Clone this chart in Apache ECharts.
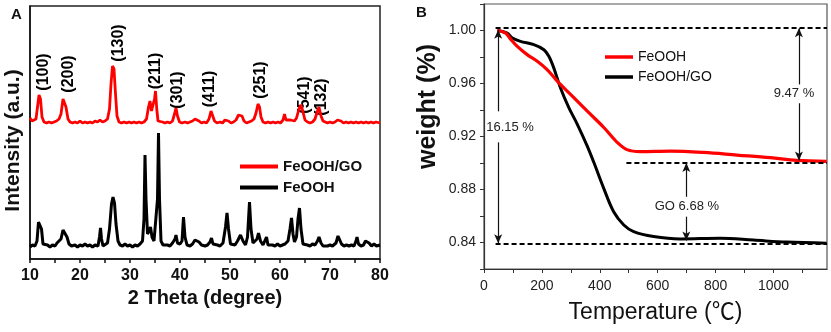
<!DOCTYPE html>
<html><head><meta charset="utf-8">
<script src="https://cdn.jsdelivr.net/npm/echarts@6/dist/echarts.min.js"></script>
<style>html,body{margin:0;padding:0;background:#fff}#c{width:831px;height:332px}</style>
</head><body><div id="c"></div>
<script>
// ---------- Panel A : XRD (2θ, intensity in a.u., curves drawn stacked) ----------
const xrdFeOOH = [[10,12],[10.5,14],[11,13],[11.4,18],[11.7,37],[12.0,38],[12.3,30],[12.6,15],[13,13],[13.5,14],[14,12],[14.5,14],[15,13],[15.4,16],[15.8,15],[16.2,20],[16.6,29],[17,30],[17.4,22],[17.8,15],[18.3,13],[19,14],[19.5,12],[20,14],[20.5,13],[21,15],[21.5,13],[22,14],[22.5,12],[23,14],[23.6,13],[23.9,22],[24.1,31],[24.3,20],[24.6,13],[25,14],[25.5,16],[25.9,30],[26.3,55],[26.6,62],[26.9,56],[27.2,35],[27.6,18],[28,14],[28.5,13],[29,15],[29.5,13],[30,14],[30.5,12],[31,14],[31.5,13],[32,15],[32.5,18],[32.8,40],[33.0,104],[33.2,60],[33.5,25],[33.8,28],[34.1,32],[34.4,22],[34.8,18],[35.2,20],[35.5,60],[35.7,126],[35.9,60],[36.2,18],[36.6,14],[37,13],[37.5,14],[38,13],[38.5,16],[39.0,20],[39.2,24],[39.5,16],[40,15],[40.4,18],[40.7,42],[41.0,22],[41.4,14],[42,13],[42.5,15],[43,19],[43.4,21],[43.8,17],[44.3,14],[45,13],[45.5,14],[46,17],[46.3,21],[46.6,15],[47,13],[47.5,14],[48,13],[48.6,16],[49.1,32],[49.4,46],[49.7,30],[50.1,15],[50.5,13],[51,14],[51.5,18],[52.1,24],[52.6,18],[53.1,14],[53.5,22],[53.9,57],[54.2,30],[54.6,16],[55,15],[55.4,20],[55.7,26],[56.1,18],[56.6,14],[57.0,15],[57.3,22],[57.6,14],[58,13],[58.5,14],[59,13],[59.5,15],[60,13],[60.5,14],[61,15],[61.6,18],[62.0,30],[62.3,41],[62.6,25],[62.9,17],[63.3,22],[63.6,40],[63.9,51],[64.2,30],[64.6,15],[65,13],[65.5,14],[66,13],[66.5,15],[67,14],[67.5,18],[67.8,22],[68.2,16],[68.6,13],[69,14],[69.5,13],[70,14],[70.5,13],[71.2,16],[71.6,23],[71.9,24],[72.3,15],[72.8,13],[73.3,14],[73.8,13],[74.3,14],[74.8,13],[75.2,18],[75.4,22],[75.7,15],[76.2,13],[76.7,14],[77.1,18],[77.4,20],[77.8,16],[78.3,13],[78.8,15],[79.3,13],[80,14]];
const xrdFeOOHGO = [[10,141],[10.4,138],[10.8,137],[11.2,140],[11.5,152],[11.8,164],[12.1,160],[12.4,142],[12.8,137],[13.3,136],[13.8,137],[14.3,136],[14.8,137],[15.3,138],[15.8,140],[16.2,145],[16.6,160],[16.9,162],[17.2,152],[17.6,140],[18,137],[18.5,136],[19,137],[19.5,136],[20,138],[20.5,136],[21,137],[21.5,136],[22,137],[22.5,136],[23,138],[23.5,137],[24,139],[24.5,137],[25,138],[25.5,140],[25.9,150],[26.2,175],[26.5,193],[26.8,190],[27.1,165],[27.4,143],[27.8,137],[28.3,136],[28.8,137],[29.3,136],[29.8,137],[30.3,136],[30.8,137],[31.3,136],[31.8,137],[32.3,136],[32.8,137],[33.3,140],[33.7,152],[34.0,158],[34.3,148],[34.6,146],[34.9,160],[35.1,168],[35.35,150],[35.6,138],[36,136],[36.5,137],[37,136],[37.5,137],[38,136],[38.5,138],[38.9,145],[39.2,151],[39.5,143],[39.9,137],[40.4,136],[41,137],[41.5,136],[42,137],[42.5,138],[43,140],[43.4,140],[43.8,138],[44.3,136],[44.8,137],[45.3,136],[45.8,140],[46.2,148],[46.5,146],[46.9,138],[47.4,136],[48,137],[48.5,136],[49,139],[49.3,141],[49.7,138],[50.2,136],[50.7,137],[51.2,139],[51.7,144],[52.0,146],[52.4,143],[52.8,138],[53.3,136],[53.8,137],[54.3,138],[54.8,140],[55.2,146],[55.6,155],[55.9,152],[56.2,142],[56.6,137],[57.1,136],[57.6,137],[58.1,136],[58.6,137],[59.1,136],[59.6,137],[60.1,136],[60.6,139],[60.9,145],[61.2,139],[61.6,137],[62.1,139],[62.5,138],[62.9,138],[63.3,141],[63.8,150],[64.2,154],[64.6,147],[65,139],[65.5,137],[66,136],[66.5,137],[67,140],[67.5,148],[67.8,152],[68.2,143],[68.6,138],[69,137],[69.5,136],[70,137],[70.5,136],[71,137],[71.5,139],[71.8,141],[72.2,138],[72.7,136],[73.2,137],[73.7,136],[74.2,137],[74.7,136],[75.2,137],[75.7,136],[76.2,137],[76.7,136],[77.2,137],[77.7,136],[78.2,137],[78.7,136],[79.2,137],[80,136]];
// hkl annotations: [2θ, intensity level, text]
const hklLabels = [[12.67,187,'(100)'],[17.67,185,'(200)'],[27.67,216,'(130)'],[35.07,188,'(211)'],[39.47,169,'(301)'],[45.9,170,'(411)'],[56.1,179,'(251)'],[64.9,164,'(541)'],[68.3,162,'(132)']];
const xrdTicks = [10,20,30,40,50,60,70,80];

// ---------- Panel B : TGA ----------
const tempFeOOH = [46,75,92,115,149,184,218,253,299,356,414,460,494,540,644,759,874,989,1080,1184];
const wFeOOH    = [1.000,0.998,0.9935,0.988,0.9818,0.9768,0.9705,0.9618,0.9518,0.9393,0.9268,0.9156,0.9101,0.9086,0.9090,0.9080,0.9060,0.9040,0.9020,0.9012];
const tempFeOOHGO = [46,80,98,126,172,207,224,241,264,293,322,356,379,414,448,483,517,586,678,816,931,1046,1184];
const wFeOOHGO    = [1.000,0.998,0.9943,0.9918,0.9893,0.9855,0.9805,0.9718,0.9568,0.9418,0.9294,0.9131,0.9007,0.8807,0.8632,0.8532,0.8482,0.8445,0.8427,0.8432,0.8418,0.8403,0.8395];
// reference levels (dashed) : [startT, level]
const refLevels = [[40,1.0017],[492,0.900],[40,0.839]];
// double arrows: [T, top, gapTop, gapBottom, bottom, text, textT, textW]
const arrows = [
  [49,1.0005,0.939,0.9156,0.8395,'16.15 %',90,0.9269],
  [1088,1.0017,0.9593,0.9451,0.9019,'9.47 %',1071,0.9526],
  [699,0.900,0.8745,0.8595,0.8415,'GO 6.68 %',701,0.867]
];

const FONT = 'Liberation Sans, Arial, Helvetica, sans-serif';
const chart = echarts.init(document.getElementById('c'), null, {renderer:'canvas'});

const fmtB = (a,b)=>a.map((t,i)=>[t,b[i]]);
const TMAX = 1185;
const arrowMarks = [];
arrows.forEach(a=>{
  arrowMarks.push([{coord:[a[0],a[1]],symbol:'arrow'},{coord:[a[0],a[2]],symbol:'none'}]);
  arrowMarks.push([{coord:[a[0],a[3]],symbol:'none'},{coord:[a[0],a[4]],symbol:'arrow'}]);
});
const dashMarks = refLevels.map(r=>[{coord:[r[0],r[1]]},{coord:[TMAX,r[1]]}]);

const option = {
  animation:false,
  textStyle:{fontFamily:FONT},
  grid:[
    {left:30,top:6,width:350,height:253,show:true,borderColor:'#222',borderWidth:1.5,backgroundColor:'transparent'},
    {left:484,top:4,width:343,height:265,show:true,borderColor:'#555',borderWidth:1.2,backgroundColor:'transparent'}
  ],
  xAxis:[
    {gridIndex:0,type:'value',min:10,max:80,interval:5,
     axisLine:{lineStyle:{color:'#111',width:1.5}},
     axisTick:{show:true,inside:false,length:4,lineStyle:{color:'#111',width:1.5}},
     splitLine:{show:false},
     axisLabel:{margin:9,color:'#111',fontSize:16,fontWeight:'bold',fontFamily:FONT,
       formatter:v=>xrdTicks.includes(v)?String(v):''},
     name:'2 Theta (degree)',nameLocation:'middle',nameGap:26,
     nameTextStyle:{color:'#111',fontSize:20,fontWeight:'bold',fontFamily:FONT}},
    {gridIndex:1,type:'value',min:0,max:TMAX,interval:100,
     axisLine:{lineStyle:{color:'#333',width:1.2}},
     axisTick:{show:true,length:4,lineStyle:{color:'#333'}},
     splitLine:{show:false},
     axisLabel:{margin:10,color:'#222',fontSize:14,fontFamily:FONT,showMaxLabel:false,
       formatter:v=>(v%200===0)?String(v):''},
     name:'Temperature (\u2103)',nameLocation:'middle',nameGap:32,
     nameTextStyle:{color:'#111',fontSize:23,fontFamily:FONT+', Noto Sans CJK SC'}}
  ],
  yAxis:[
    {gridIndex:0,type:'value',min:0,max:253,
     axisLine:{show:true,lineStyle:{color:'#111',width:1.5}},
     axisTick:{show:false},axisLabel:{show:false},splitLine:{show:false},
     name:'Intensity (a.u.)',nameLocation:'middle',nameGap:6,
     nameTextStyle:{color:'#111',fontSize:21,fontWeight:'bold',fontFamily:FONT,padding:[0,16,0,0]}},
    {gridIndex:1,type:'value',min:0.82,max:1.02,interval:0.02,
     axisLine:{show:true,lineStyle:{color:'#333',width:1.2}},
     axisTick:{show:true,length:4,lineStyle:{color:'#333'}},
     splitLine:{show:false},
     axisLabel:{margin:8,color:'#222',fontSize:14,fontFamily:FONT,
       formatter:v=>{const k=v/0.04;return Math.abs(k-Math.round(k))<1e-6?v.toFixed(2):'';}},
     name:'weight (%)',nameLocation:'middle',nameGap:43,
     nameTextStyle:{color:'#111',fontSize:25,fontWeight:'bold',fontFamily:FONT,padding:[0,0,0,60]}}
  ],
  legend:[
    {data:['FeOOH/GO','FeOOH'],orient:'vertical',left:235,top:153,itemWidth:38,itemHeight:4,icon:'rect',itemGap:4,
     textStyle:{fontSize:15,fontWeight:'bold',color:'#111',lineHeight:17,fontFamily:FONT},selectedMode:false},
    {data:['FeOOH ','FeOOH/GO '],orient:'vertical',left:600,top:44,itemWidth:28,itemHeight:3.5,icon:'rect',itemGap:4,
     textStyle:{fontSize:14,color:'#111',lineHeight:16,fontFamily:FONT},selectedMode:false}
  ],
  graphic:[
    {type:'text',left:11,top:7,style:{text:'A',font:'bold 15px '+FONT,fill:'#111'}},
    {type:'text',left:416,top:5,style:{text:'B',font:'bold 15px '+FONT,fill:'#111'}}
  ],
  series:[
    {name:'FeOOH',type:'line',xAxisIndex:0,yAxisIndex:0,data:xrdFeOOH,symbol:'none',
     lineStyle:{color:'#000',width:3},itemStyle:{color:'#000'}},
    {name:'FeOOH/GO',type:'line',xAxisIndex:0,yAxisIndex:0,data:xrdFeOOHGO,symbol:'none',
     lineStyle:{color:'#f00',width:2.8},itemStyle:{color:'#f00'}},
    {name:'hkl',type:'scatter',xAxisIndex:0,yAxisIndex:0,symbolSize:0,silent:true,
     itemStyle:{color:'#000',opacity:1},
     data:hklLabels.map(h=>({value:[h[0],h[1]],name:h[2]})),
     label:{show:true,position:'inside',rotate:90,formatter:p=>p.name,color:'#000',opacity:1,textBorderWidth:0,
       fontSize:16,fontWeight:'bold',fontFamily:FONT}},
    {name:'FeOOH ',type:'line',xAxisIndex:1,yAxisIndex:1,data:fmtB(tempFeOOH,wFeOOH),symbol:'none',
     smooth:0.35,lineStyle:{color:'#f00',width:3.2},itemStyle:{color:'#f00'},z:3},
    {name:'FeOOH/GO ',type:'line',xAxisIndex:1,yAxisIndex:1,data:fmtB(tempFeOOHGO,wFeOOHGO),symbol:'none',
     smooth:0.35,lineStyle:{color:'#000',width:3},itemStyle:{color:'#000'},z:2,
     markLine:{silent:true,symbol:'none',label:{show:false},
       lineStyle:{color:'#000',type:[5,3],width:2},
       data:dashMarks}},
    {name:'arrows',type:'scatter',xAxisIndex:1,yAxisIndex:1,symbolSize:0,silent:true,
     itemStyle:{color:'#000',opacity:1},
     data:arrows.map(a=>({value:[a[6],a[7]],name:a[5]})),
     label:{show:true,position:'inside',formatter:p=>p.name,color:'#222',opacity:1,textBorderWidth:0,fontSize:13,fontFamily:FONT},
     markLine:{silent:true,symbolSize:[6,9],label:{show:false},
       lineStyle:{color:'#111',type:'solid',width:1.2},
       data:arrowMarks}}
  ]
};
chart.setOption(option);
</script></body></html>
